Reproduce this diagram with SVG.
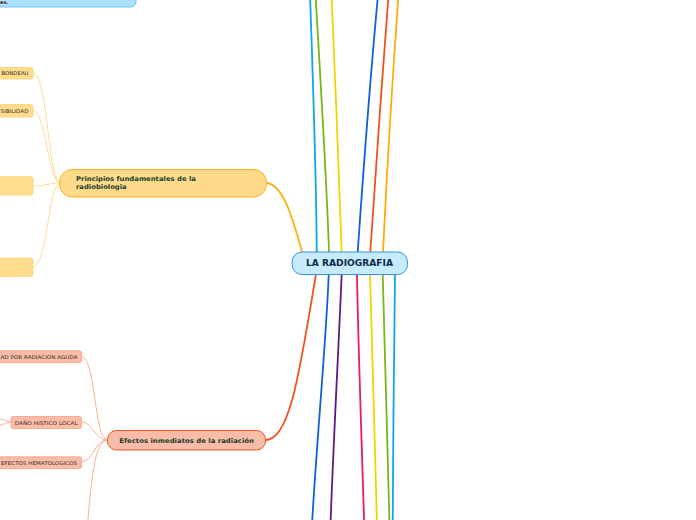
<svg xmlns="http://www.w3.org/2000/svg" width="696" height="520" viewBox="0 0 696 520">
<style>
.c{fill:none;stroke-linecap:round}
.main{stroke-width:1.8}
.t{font-family:"DejaVu Sans",Verdana,sans-serif}
.b{font-weight:bold}
.sm{font-size:5px;fill:#3a2a22}
.yc{stroke:#fdd98a;stroke-width:0.9}
.rc{stroke:#f9a98f;stroke-width:0.9}
.ysm{fill:#fddc8e;stroke:#fcd17a;stroke-width:0.8}
.rsm{fill:#f9bca8;stroke:#f8a183;stroke-width:0.8}
</style>
<rect width="696" height="520" fill="#ffffff"/>
<g id="connectors">
<path class="c main" stroke="#11a5ec" d="M316.7,252 C316.5,200 313,80 310,-5"/>
<path class="c main" stroke="#7cb518" d="M329,252 C327,190 320,70 315.5,-5"/>
<path class="c main" stroke="#f2d300" d="M341.7,252 C339.5,190 335,70 331.5,-5"/>
<path class="c main" stroke="#1060d8" d="M357.7,252 C362,190 371,70 378,-5"/>
<path class="c main" stroke="#f4511e" d="M370.3,252 C374,190 383,70 388.5,-5"/>
<path class="c main" stroke="#ffad0a" d="M383,252 C386,190 393,70 398.5,-5"/>
<path class="c main" stroke="#1060d8" d="M328.7,274 C327,330 316,450 312,525"/>
<path class="c main" stroke="#5e1a80" d="M341.7,274 C339,340 333,450 330.5,525"/>
<path class="c main" stroke="#ec1b6a" d="M357,274 C358,340 362,450 364.2,525"/>
<path class="c main" stroke="#f2d300" d="M370,274 C372,340 375,450 377,525"/>
<path class="c main" stroke="#7cb518" d="M382.7,274 C384,340 388,450 389.5,525"/>
<path class="c main" stroke="#11a5ec" d="M395,274 C394.5,340 392.7,450 392.7,525"/>
<path class="c main" stroke="#f9b116" d="M266,183 C282,183 292,215 302,252"/>
<path class="c main" stroke="#f4511e" d="M266,440 C290,440 300,370 316,274"/>
<path class="c yc" d="M60,183 C48,183 48,73 33,73"/>
<path class="c yc" d="M60,183 C48,183 46,110 33,110"/>
<path class="c yc" d="M60,183 C48,183 46,186 33,186"/>
<path class="c yc" d="M60,183 C48,183 48,267 33,267"/>
<path class="c rc" d="M107,440 C94,440 96,356 81,356"/>
<path class="c rc" d="M107,440 C94,440 94,422 81,422"/>
<path class="c rc" d="M107,440 C94,440 94,462 81,462"/>
<path class="c rc" d="M107,440 C96,440 92,470 87.5,525"/>
<path class="c rc" d="M11,422 C6,422 5,419 -1,419"/>
<path class="c rc" d="M11,422 C6,422 5,425 -1,425"/>
</g>
<g id="node-top">
<rect x="-20" y="-20" width="156" height="27" rx="5" fill="#aee2fa" stroke="#62c3f3" stroke-width="0.9"/>
<text class="t sm b" x="0" y="4" fill="#3d4a55">es.</text>
</g>
<g id="node-central">
<rect x="292" y="252" width="115.5" height="22.5" rx="10" fill="#c6ebfc" stroke="#3b92dc" stroke-width="1"/>
<text class="t b" x="349.5" y="266" text-anchor="middle" font-size="8" fill="#0e2a4a" textLength="87" lengthAdjust="spacingAndGlyphs">LA RADIOGRAFIA</text>
</g>
<g id="node-principios">
<rect x="59.5" y="169.5" width="207" height="27.5" rx="13" fill="#fddb8b" stroke="#f7b21a" stroke-width="1"/>
<text class="t b" x="76" y="181.3" font-size="6.5" fill="#1d3d2b" textLength="120" lengthAdjust="spacingAndGlyphs">Principios fundamentales de la</text>
<text class="t b" x="76" y="189.3" font-size="6.5" fill="#1d3d2b" textLength="50.7" lengthAdjust="spacingAndGlyphs">radiobiologia</text>
</g>
<g id="node-bondeau">
<rect class="ysm" x="-20" y="67.5" width="53" height="11.5" rx="2"/>
<text class="t sm" x="28.5" y="75" text-anchor="end" textLength="27" lengthAdjust="spacingAndGlyphs">BONDEAU</text>
</g>
<g id="node-sibilidad">
<rect class="ysm" x="-20" y="104.5" width="53" height="12.5" rx="2"/>
<text class="t sm" x="28.5" y="112.5" text-anchor="end" textLength="28" lengthAdjust="spacingAndGlyphs">SIBILIDAD</text>
</g>
<g id="node-yellow3">
<rect class="ysm" x="-20" y="176.5" width="53" height="18.5" rx="2.5"/>
</g>
<g id="node-yellow4">
<rect class="ysm" x="-20" y="258" width="53" height="18.5" rx="2.5"/>
</g>
<g id="node-efectos">
<rect x="107.5" y="430.5" width="158" height="19.5" rx="9" fill="#f9bca8" stroke="#f4511e" stroke-width="1"/>
<text class="t b" x="119.3" y="442.5" font-size="6.5" fill="#1d3d2b" textLength="134.7" lengthAdjust="spacingAndGlyphs">Efectos inmediatos de la radiación</text>
</g>
<g id="node-aguda">
<rect class="rsm" x="-20" y="350.8" width="101.5" height="11.8" rx="2"/>
<text class="t sm" x="77.5" y="358.5" text-anchor="end" textLength="77" lengthAdjust="spacingAndGlyphs">AD POR RADIACION AGUDA</text>
</g>
<g id="node-dano">
<rect class="rsm" x="11" y="416.5" width="70.5" height="12" rx="2"/>
<text class="t sm" x="46.2" y="424.5" text-anchor="middle" textLength="63" lengthAdjust="spacingAndGlyphs">DAÑO HISTICO LOCAL</text>
</g>
<g id="node-hemato">
<rect class="rsm" x="-20" y="456.8" width="101.5" height="11.8" rx="2"/>
<text class="t sm" x="77" y="464.5" text-anchor="end" textLength="76" lengthAdjust="spacingAndGlyphs">EFECTOS HEMATOLOGICOS</text>
</g>
</svg>
